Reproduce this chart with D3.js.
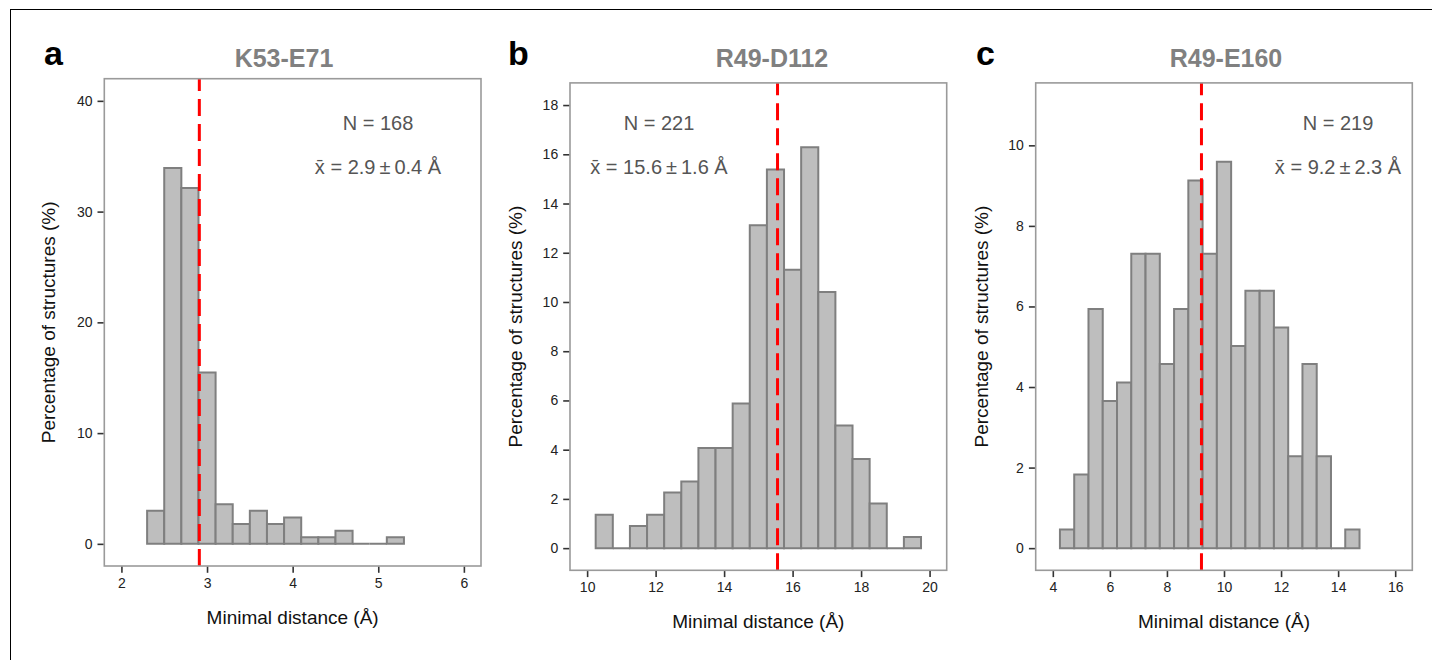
<!DOCTYPE html>
<html>
<head>
<meta charset="utf-8">
<script src="https://cdn.jsdelivr.net/npm/d3@7"></script>
<style>
  body { margin: 0; background: #fff; }
  svg text { font-family: "Liberation Sans", Arial, Helvetica, sans-serif; }
</style>
</head>
<body>
<div id="chart"></div>
<script>
// panel titles and letters
const panelLetters = ['a', 'b', 'c']
const panelTitles = ['K53-E71', 'R49-D112', 'R49-E160']

// histogram bins (left edges) and percentage of structures per bin
const binWidths = [0.2, 0.5, 0.5]
const binsA = [2.3, 2.5, 2.7, 2.9, 3.1, 3.3, 3.5, 3.7, 3.9, 4.1, 4.3, 4.5, 4.7, 4.9, 5.1]
const pctA = [2.98, 33.93, 32.14, 15.48, 3.57, 1.79, 2.98, 1.79, 2.38, 0.6, 0.6, 1.19, 0, 0, 0.6]

const binsB = [10.25, 10.75, 11.25, 11.75, 12.25, 12.75, 13.25, 13.75, 14.25, 14.75,
    15.25, 15.75, 16.25, 16.75, 17.25, 17.75, 18.25, 18.75, 19.25]
const pctB = [1.36, 0, 0.9, 1.36, 2.26, 2.71, 4.07, 4.07, 5.88, 13.12,
    15.38, 11.31, 16.29, 10.41, 4.98, 3.62, 1.81, 0, 0.45]

const binsC = [4.25, 4.75, 5.25, 5.75, 6.25, 6.75, 7.25, 7.75, 8.25, 8.75, 9.25,
    9.75, 10.25, 10.75, 11.25, 11.75, 12.25, 12.75, 13.25, 13.75, 14.25]
const pctC = [0.46, 1.83, 5.94, 3.65, 4.11, 7.31, 7.31, 4.57, 5.94, 9.13, 7.31,
    9.59, 5.02, 6.39, 6.39, 5.48, 2.28, 4.57, 2.28, 0, 0.46]

// annotations
const nValues = [168, 221, 219]
const meanValues = ['2.9', '15.6', '9.2']
const sdValues = ['0.4', '1.6', '2.3']
const meanLine = [2.91, 15.56, 9.21]

// axis ticks
const xTicksA = [2, 3, 4, 5, 6]
const xTicksB = [10, 12, 14, 16, 18, 20]
const xTicksC = [4, 6, 8, 10, 12, 14, 16]
const yTicksA = [0, 10, 20, 30, 40]
const yTicksB = [0, 2, 4, 6, 8, 10, 12, 14, 16, 18]
const yTicksC = [0, 2, 4, 6, 8, 10]

const xTitle = 'Minimal distance (Å)'
const yTitle = 'Percentage of structures (%)'

const w = 1432
const h = 660

const svg = d3.select('#chart')
    .append('svg')
    .attr('width', w)
    .attr('height', h)

// outer figure frame (only top and left edges are inside the picture)
svg.append('rect')
    .attr('x', 10.5).attr('y', 9.5)
    .attr('width', w + 20).attr('height', h + 20)
    .attr('fill', 'none')
    .attr('stroke', '#000')
    .attr('stroke-width', 1)

// layout of each panel box in pixels, plus scale domains
const panels = [
    { bins: binsA, pct: pctA, xTicks: xTicksA, yTicks: yTicksA,
      left: 104.3, right: 481, top: 78.7, bottom: 566,
      xDomain: [1.8, 6.2], yDomain: [-2, 42], letterX: 44, titleX: 284, annoX: 378 },
    { bins: binsB, pct: pctB, xTicks: xTicksB, yTicks: yTicksB,
      left: 570, right: 946.7, top: 82.9, bottom: 570.3,
      xDomain: [9.5, 20.5], yDomain: [-0.9, 18.9], letterX: 508, titleX: 772, annoX: 659 },
    { bins: binsC, pct: pctC, xTicks: xTicksC, yTicks: yTicksC,
      left: 1035.7, right: 1412.3, top: 82.9, bottom: 570.3,
      xDomain: [3.4, 16.6], yDomain: [-0.55, 11.55], letterX: 976, titleX: 1226, annoX: 1338 }
]

panels.forEach((p, k) => {
    const xScale = d3.scaleLinear().domain(p.xDomain).range([p.left, p.right])
    const yScale = d3.scaleLinear().domain(p.yDomain).range([p.bottom, p.top])
    const bw = binWidths[k]
    const cx = (p.left + p.right) / 2
    const g = svg.append('g')

    // bars (as paths so that empty bins still show a flat outline)
    g.selectAll('path.bar')
        .data(p.bins.map((b, i) => ({ x0: b, x1: b + bw, v: p.pct[i] })))
        .enter()
        .append('path')
        .attr('class', 'bar')
        .attr('d', (d) => {
            const x0 = xScale(d.x0), x1 = xScale(d.x1)
            const y0 = yScale(0), y1 = yScale(d.v)
            return `M${x0},${y0}V${y1}H${x1}V${y0}Z`
        })
        .attr('fill', '#bebebe')
        .attr('stroke', '#7f7f7f')
        .attr('stroke-width', 2)
        .attr('stroke-linejoin', 'miter')

    // mean line
    g.append('line')
        .attr('x1', xScale(meanLine[k])).attr('x2', xScale(meanLine[k]))
        .attr('y1', p.bottom).attr('y2', p.top)
        .attr('stroke', '#ff0000')
        .attr('stroke-width', 3)
        .attr('stroke-dasharray', '17,8')

    // panel border
    g.append('rect')
        .attr('x', p.left).attr('y', p.top)
        .attr('width', p.right - p.left).attr('height', p.bottom - p.top)
        .attr('fill', 'none')
        .attr('stroke', '#9a9a9a')
        .attr('stroke-width', 1.6)

    // axes
    const xAxis = d3.axisBottom(xScale).tickValues(p.xTicks).tickFormat(d3.format('d'))
        .tickSize(6).tickPadding(5)
    const yAxis = d3.axisLeft(yScale).tickValues(p.yTicks).tickFormat(d3.format('d'))
        .tickSize(6).tickPadding(5)

    const gx = g.append('g')
        .attr('transform', `translate(0,${p.bottom + 0.8})`)
        .call(xAxis)
    const gy = g.append('g')
        .attr('transform', `translate(${p.left - 0.8},0)`)
        .call(yAxis)

    ;[gx, gy].forEach((ax) => {
        ax.select('.domain').remove()
        ax.selectAll('.tick line').attr('stroke', '#333').attr('stroke-width', 1.6)
        ax.selectAll('.tick text')
            .attr('fill', '#222')
            .style('font-size', '14px')
    })

    // axis titles
    g.append('text')
        .attr('x', cx).attr('y', p.bottom + 58)
        .attr('text-anchor', 'middle')
        .style('font-size', '19px')
        .attr('fill', '#111')
        .text(xTitle)

    g.append('text')
        .attr('transform', `translate(${p.left - (k === 0 ? 49 : 48)},${(p.top + p.bottom) / 2}) rotate(-90)`)
        .attr('text-anchor', 'middle')
        .style('font-size', '19px')
        .attr('fill', '#111')
        .text(yTitle)

    // title and letter
    g.append('text')
        .attr('x', p.titleX).attr('y', 67)
        .attr('text-anchor', 'middle')
        .style('font-size', '25px')
        .style('font-weight', 'bold')
        .attr('fill', '#808080')
        .text(panelTitles[k])

    g.append('text')
        .attr('x', p.letterX).attr('y', 65)
        .style('font-size', '34px')
        .style('font-weight', 'bold')
        .attr('fill', '#000')
        .text(panelLetters[k])

    // annotations
    g.append('text')
        .attr('x', p.annoX).attr('y', 130)
        .attr('text-anchor', 'middle')
        .style('font-size', '20px')
        .attr('fill', '#555')
        .text(`N = ${nValues[k]}`)

    g.append('text')
        .attr('x', p.annoX).attr('y', 174)
        .attr('text-anchor', 'middle')
        .style('font-size', '20px')
        .attr('fill', '#555')
        .text(`x\u0304 = ${meanValues[k]}\u2009±\u2009${sdValues[k]} Å`)
})
</script>
</body>
</html>
